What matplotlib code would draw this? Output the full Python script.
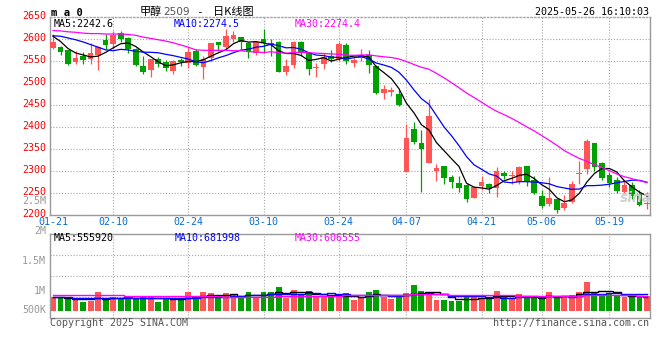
import matplotlib
matplotlib.use('Agg')
import matplotlib.pyplot as plt
from matplotlib.transforms import ScaledTranslation
import numpy as np
import pandas as pd

# daily candles 01-21 .. 05-26 (80 sessions)
opens = [2581, 2581.5, 2575, 2549, 2562, 2555, 2564, 2598.5, 2589, 2614.6,
         2602, 2578.5, 2540, 2531, 2556, 2548, 2529, 2553, 2547, 2573,
         2538, 2557, 2593, 2583, 2601, 2604.6, 2591, 2569, 2600, 2591.5,
         2593, 2525, 2541, 2593, 2568, 2534, 2543, 2561, 2555, 2588,
         2546, 2558, 2565, 2540, 2478.5, 2481, 2475.5, 2298, 2396, 2364,
         2318, 2300, 2311.6, 2288, 2273, 2269, 2240, 2267, 2271.6, 2263,
         2295.5, 2290, 2274.6, 2311, 2280, 2244, 2224.6, 2236, 2215.5, 2231,
         2294, 2305, 2365, 2318, 2291, 2280, 2252, 2269, 2248, 2226]
highs = [2612, 2585, 2575, 2574, 2572, 2591, 2584, 2611, 2620, 2618,
         2606, 2580, 2563, 2556, 2560, 2552, 2552, 2558, 2581.5, 2577,
         2562, 2591, 2595, 2624, 2620, 2604.6, 2593, 2597, 2624, 2601,
         2597, 2556, 2596, 2597, 2572, 2547, 2568, 2575, 2595, 2591,
         2558, 2578, 2575, 2542, 2496, 2492, 2485, 2408, 2413, 2395,
         2464, 2317, 2313, 2291, 2290, 2271.6, 2265, 2288.5, 2273, 2309,
         2301.6, 2301.6, 2313, 2311, 2290, 2258, 2286, 2240, 2246, 2278.5,
         2323, 2373, 2365, 2321, 2299, 2287, 2280, 2276, 2258, 2252]
lows = [2578, 2564, 2541, 2545, 2545, 2543, 2531, 2579, 2579, 2593,
        2568, 2539, 2521.5, 2515, 2538, 2529, 2522, 2539, 2535, 2539,
        2510, 2551, 2574, 2578, 2593, 2577, 2557, 2565, 2570, 2561,
        2525, 2518, 2534, 2562, 2520, 2515, 2533, 2549, 2551, 2543,
        2536, 2550, 2523, 2475, 2465, 2471, 2448.5, 2298, 2361.5, 2252,
        2318, 2279, 2271.6, 2261.6, 2254, 2231, 2240, 2258, 2250, 2241.6,
        2282, 2272, 2271, 2267, 2247.7, 2215.5, 2220.8, 2205.5, 2211, 2228.5,
        2271, 2294, 2301.6, 2280, 2265, 2250, 2250, 2236, 2222, 2214]
closes = [2593, 2572, 2545, 2558.5, 2554, 2570, 2581.5, 2587, 2610, 2601,
          2579, 2541.5, 2524.6, 2556, 2543, 2535, 2551, 2548, 2571.5, 2541,
          2556, 2591, 2587, 2607, 2609, 2593, 2572, 2593, 2591, 2589,
          2525, 2540, 2594, 2568.5, 2531.5, 2538, 2560, 2555, 2589, 2551,
          2554, 2564, 2541, 2477, 2486, 2485, 2451.5, 2375.5, 2367, 2350,
          2425.5, 2308.5, 2284, 2275, 2261, 2236, 2264, 2275, 2261.6, 2301.6,
          2290, 2291.5, 2309, 2274.6, 2251.6, 2221, 2240, 2213, 2228.5, 2272,
          2296, 2368, 2310, 2285, 2273, 2255, 2268, 2243, 2224, 2229]
# volume in thousands of lots
volumes = [532, 560, 532, 452, 360, 400, 748, 468, 532, 492,
           492, 508, 532, 588, 360, 508, 452, 428, 748, 520,
           748, 708, 492, 708, 612, 492, 748, 508, 748, 748,
           948, 508, 828, 640, 788, 572, 588, 560, 560, 708,
           428, 560, 748, 828, 560, 468, 560, 708, 1028, 788,
           692, 428, 428, 400, 388, 612, 560, 520, 532, 788,
           532, 492, 668, 492, 492, 492, 748, 600, 532, 628,
           748, 1148, 748, 628, 668, 612, 560, 532, 532, 588]

# moving-average values before a full window exists
ma5_head = [2607, 2595, 2579, 2569]
ma10_head = [2608, 2607, 2603, 2599, 2594, 2588, 2582, 2576, 2574]
ma30_head = [2620, 2619, 2617, 2616, 2614, 2613, 2613, 2612, 2612, 2612,
             2611, 2609, 2605, 2602, 2599, 2596, 2592, 2587, 2582, 2576,
             2575, 2575, 2575, 2575, 2574, 2574, 2572, 2571, 2570]
vma5_head = [560, 530, 500, 480]
vma10_head = [540, 535, 530, 525, 520, 515, 520, 515, 510]
vma30_head = [613] * 10 + [590] * 7 + [575] * 6 + [565] * 6

date_pos = [0, 8, 18, 28, 38, 47, 57, 65, 74]
date_labels = ['01-21', '02-10', '02-24', '03-10', '03-24', '04-07', '04-21', '05-06', '05-19']
price_levels = list(range(2200, 2651, 50))
vol_axis_labels = ['2.5M', '2M', '1.5M', '1M', '500K']

title_name = '甲醇'
title_code = '2509'
title_kind = '日K线图'
stamp = '2025-05-26 16:10:03'
price_ma_text = ['MA5:2242.6', 'MA10:2274.5', 'MA30:2274.4']
vol_ma_text = ['MA5:555920', 'MA10:681998', 'MA30:606555']


def moving_avg(values, n, head):
    s = pd.Series(values, dtype=float).rolling(n).mean()
    s.iloc[:n - 1] = head
    return s.values


RED = '#ff5555'
GREEN = '#00a000'
GRID = '#a8a8a8'
FRAME = '#999999'
MONO = 'DejaVu Sans Mono'
FS = 7.2
W, H = 660, 360

plt.rcParams['font.family'] = [MONO, 'Noto Sans CJK SC']

fig = plt.figure(figsize=(6.6, 3.6), dpi=100)
fig.patch.set_facecolor('white')


def px_axes(left, top, right, bottom):
    return fig.add_axes([left / W, 1 - bottom / H, (right - left) / W, (bottom - top) / H])


ax = px_axes(50, 17.3, 650, 215.3)
vax = px_axes(50, 234.3, 650, 318.3)

x = np.arange(len(closes))
o = np.array(opens)
c = np.array(closes)
up = c >= o
cols = np.where(up, RED, GREEN)

# ---- price panel
for lv in price_levels[1:-1]:
    ax.axhline(lv, color=GRID, lw=0.8, ls=(0, (1, 1.6)), zorder=0)
for p in date_pos[1:]:
    ax.axvline(p, color=GRID, lw=0.8, ls=(0, (1, 1.6)), zorder=0)

ax.vlines(x, lows, highs, colors=cols, lw=0.9, zorder=2)
body_h = np.maximum(np.abs(c - o), 1.2)
ax.bar(x, body_h, bottom=np.minimum(o, c), width=0.76, color=cols, zorder=3)

ax.plot(x, moving_avg(closes, 5, ma5_head), color='black', lw=0.9, zorder=4)
ax.plot(x, moving_avg(closes, 10, ma10_head), color='#0000ff', lw=0.9, zorder=4)
ax.plot(x, moving_avg(closes, 30, ma30_head), color='#ff00ff', lw=0.9, zorder=4)

ax.set_xlim(-0.4, 79.4)
ax.set_ylim(price_levels[0], price_levels[-1])
ax.set_yticks(price_levels)
ax.set_yticklabels([str(v) for v in price_levels], color='#ff0000', fontsize=FS, family=MONO)
ax.set_xticks(date_pos)
ax.set_xticklabels(date_labels, color='#0a6ccc', fontsize=FS, family=MONO)
ax.tick_params(axis='y', length=0, pad=3)
ax.tick_params(axis='x', length=0, pad=1.2)
lift = ScaledTranslation(0, 2.2 / 100, fig.dpi_scale_trans)
for lab in ax.get_yticklabels():
    lab.set_transform(lab.get_transform() + lift)
for s in ax.spines.values():
    s.set_color(FRAME)
    s.set_linewidth(1)
ax.spines['top'].set_linestyle((0, (1, 1.6)))
ax.spines['top'].set_color(GRID)

ma_cols = ['black', '#0000ff', '#ff00ff']
for txt, col, xp in zip(price_ma_text, ma_cols, [54, 174, 295]):
    fig.text(xp / W, 1 - 24 / H, txt, color=col, fontsize=FS, family=MONO, va='center')

# sina watermark
fig.text(636 / W, 1 - 198 / H, 'sina', color='#d0d0d0', fontsize=10, fontweight='bold',
         style='italic', ha='center', va='center', family='DejaVu Sans', zorder=1)

# ---- volume panel
vmin, vmax = -304, 3056
vax.set_ylim(vmin, vmax)
vax.set_xlim(-0.4, 79.4)
for g in np.linspace(vmin, vmax, 5)[1:4]:
    vax.axhline(g, color=GRID, lw=0.8, ls=(0, (1, 1.6)), zorder=0)
for p in date_pos[1:]:
    vax.axvline(p, color=GRID, lw=0.8, ls=(0, (1, 1.6)), zorder=0)
vax.bar(x, volumes, width=0.78, color=cols, zorder=2)
vax.plot(x, moving_avg(volumes, 5, vma5_head), color='black', lw=1.0, drawstyle='steps-mid', zorder=3)
vax.plot(x, moving_avg(volumes, 10, vma10_head), color='#0000ff', lw=1.0, drawstyle='steps-mid', zorder=3)
vax.plot(x, moving_avg(volumes, 30, vma30_head), color='#ff00ff', lw=1.0, drawstyle='steps-mid', zorder=3)
vax.set_xticks([])
vax.set_yticks([])
for s in vax.spines.values():
    s.set_color(FRAME)
    s.set_linewidth(1)

for txt, col, xp in zip(vol_ma_text, ma_cols, [54, 175, 295]):
    fig.text(xp / W, 1 - 238.3 / H, txt, color=col, fontsize=FS, family=MONO, va='center')

for lab, yp in zip(vol_axis_labels, [201.5, 231, 261, 291, 310]):
    fig.text(46 / W, 1 - yp / H, lab, color='#999999', fontsize=FS, family=MONO,
             ha='right', va='center')

# ---- header and footer
fig.text(51 / W, 1 - 12.5 / H, 'm a 0', color='black', fontsize=7.6, fontweight='bold',
         family=MONO, va='center')
fig.text(140 / W, 1 - 12 / H, title_name, color='black', fontsize=8, family='Noto Sans CJK SC', va='center')
fig.text(163 / W, 1 - 12 / H, title_code, color='#555555', fontsize=7.6, family='DejaVu Sans', va='center')
fig.text(199 / W, 1 - 12 / H, '-', color='black', fontsize=8, family=MONO, va='center', ha='center')
fig.text(213 / W, 1 - 12 / H, title_kind, color='black', fontsize=8, family='Noto Sans CJK SC', va='center')
fig.text(649 / W, 1 - 12 / H, stamp, color='black', fontsize=FS, family=MONO, ha='right', va='center')

fig.text(50 / W, 1 - 323.5 / H, 'Copyright 2025 SINA.COM', color='#555555', fontsize=FS,
         family=MONO, va='center')
fig.text(649 / W, 1 - 323.5 / H, 'http://finance.sina.com.cn', color='#555555', fontsize=FS,
         family=MONO, ha='right', va='center')

fig.savefig('out.png', dpi=100)
